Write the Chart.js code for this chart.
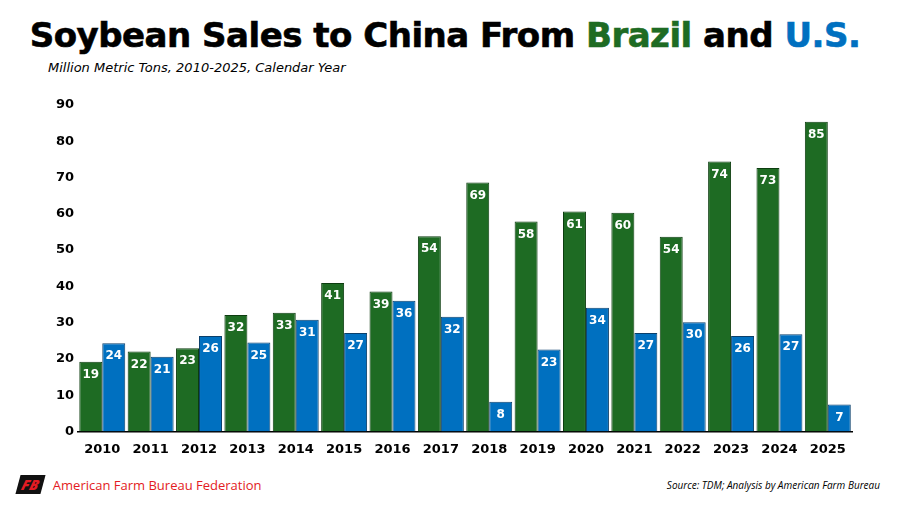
<!DOCTYPE html>
<html><head><meta charset="utf-8">
<script src="https://cdn.jsdelivr.net/npm/chart.js@4"></script>
<style>
body{margin:0;width:900px;height:506px;background:#fff;font-family:"DejaVu Sans",sans-serif;position:relative;overflow:hidden}
h1{position:absolute;top:15px;left:0;width:890px;text-align:center;margin:0;font-size:34px;font-weight:bold;letter-spacing:-0.5px;-webkit-text-stroke:0.6px currentColor}
.sub{position:absolute;top:60px;left:48px;font-style:italic;font-size:13px}
#wrap{position:absolute;left:52px;top:93px;width:808px;height:374px}
.src{position:absolute;right:20px;bottom:14px;font-size:10px;font-style:italic;font-family:"Open Sans",sans-serif}
.logo{position:absolute;left:18px;bottom:12px;font-family:"Open Sans",sans-serif;color:#e31b23;font-size:13px;display:flex;align-items:center}
.logo b{display:inline-block;background:#111;color:#e31b23;font-style:italic;font-weight:900;font-size:14px;padding:0 4px;margin-right:10px;transform:skewX(-15deg)}
</style></head><body>
<h1>Soybean Sales to China From <span style="color:#1e6b23">Brazil</span> and <span style="color:#0070c0">U.S.</span></h1>
<div class="sub">Million Metric Tons, 2010-2025, Calendar Year</div>
<div id="wrap"><canvas id="c"></canvas></div>
<div class="logo"><b>FB</b>American Farm Bureau Federation</div>
<div class="src">Source: TDM; Analysis by American Farm Bureau</div>
<script>
const years = ['2010','2011','2012','2013','2014','2015','2016','2017','2018','2019','2020','2021','2022','2023','2024','2025'];
const brazil = [19.2,22.0,22.9,32.1,32.7,40.9,38.6,53.8,68.6,57.9,60.6,60.3,53.7,74.4,72.6,85.4];
const us = [24.3,20.6,26.3,24.5,30.8,27.1,36.0,31.6,8.2,22.6,34.1,27.1,30.1,26.3,26.8,7.4];

const labelPlugin = {
  id: 'barLabels',
  afterDatasetsDraw(chart) {
    const ctx = chart.ctx;
    ctx.save();
    ctx.fillStyle = '#fff';
    ctx.font = 'bold 12px "DejaVu Sans"';
    ctx.textAlign = 'center';
    ctx.textBaseline = 'top';
    chart.data.datasets.forEach((ds, i) => {
      chart.getDatasetMeta(i).data.forEach((bar, j) => {
        ctx.fillText(Math.round(ds.data[j]), bar.x, bar.y + 7);
      });
    });
    ctx.restore();
  }
};

new Chart(document.getElementById('c'), {
  type: 'bar',
  data: {
    labels: years,
    datasets: [
      { label: 'Brazil', data: brazil, backgroundColor: '#1e6b23', borderColor: '#0d3d10', borderWidth: 1 },
      { label: 'U.S.', data: us, backgroundColor: '#0070c0', borderColor: '#0a3f6b', borderWidth: 1 }
    ]
  },
  options: {
    responsive: true,
    maintainAspectRatio: false,
    animation: { duration: 0 },
    layout: { padding: { top: 12, right: 8 } },
    plugins: { legend: { display: false }, tooltip: { enabled: false } },
    datasets: { bar: { barPercentage: 1, categoryPercentage: 0.95 } },
    scales: {
      x: {
        grid: { display: false, drawTicks: false },
        border: { color: '#000', width: 1.5 },
        ticks: { color: '#000', font: { weight: 'bold', size: 13, family: 'DejaVu Sans' }, padding: 10 }
      },
      y: {
        min: 0, max: 90,
        grid: { display: false, drawTicks: false },
        border: { display: false },
        ticks: { stepSize: 10, color: '#000', font: { weight: 'bold', size: 13, family: 'DejaVu Sans' }, padding: 4 }
      }
    }
  },
  plugins: [labelPlugin]
});
</script>
</body></html>
